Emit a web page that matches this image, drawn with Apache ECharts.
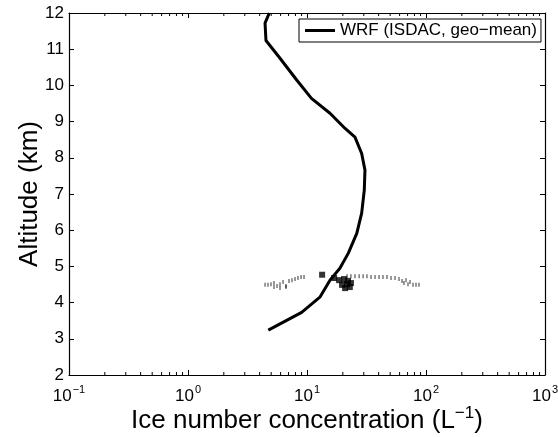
<!DOCTYPE html>
<html>
<head>
<meta charset="utf-8">
<script src="https://cdn.jsdelivr.net/npm/echarts@6/dist/echarts.min.js"></script>
<style>
html,body{margin:0;padding:0;background:#fff;}
#chart{width:558px;height:437px;}
</style>
</head>
<body>
<div id="chart"></div>
<script>
// WRF geo-mean profile: ice number concentration (L^-1) vs altitude (km)
const wrfConc = [4.82, 4.44, 4.52, 5.93, 8.19, 10.9, 15.6, 20.9, 25.3, 28.8, 30.7, 30.3, 28.8, 26.2, 22.2, 18.9, 15.6, 12.9, 9.02, 4.73];
const wrfAlt  = [12.0, 11.72, 11.24, 10.75, 10.15, 9.64, 9.23, 8.81, 8.57, 8.12, 7.66, 7.11, 6.47, 5.91, 5.36, 4.95, 4.62, 4.16, 3.73, 3.24];

// Observation samples (small dotted markers)
const obsConc = [4.44, 4.70, 4.98, 5.28, 5.60, 5.93, 6.29, 6.66, 7.06, 7.48, 7.93, 8.40, 8.91, 9.44,
                 5.28, 5.93, 6.66,
                 21.7, 23.4, 25.3, 27.4, 29.6, 31.9, 34.5, 37.3, 40.3, 43.5, 47.0, 50.8, 54.9, 59.3,
                 62.9, 65.3, 67.9, 70.6, 73.4, 77.8, 82.4, 87.3];
const obsAlt  = [4.49, 4.49, 4.51, 4.54, 4.46, 4.51, 4.57, 4.46, 4.60, 4.62, 4.65, 4.68, 4.71, 4.71,
                 4.43, 4.40, 4.43,
                 4.73, 4.73, 4.73, 4.73, 4.73, 4.73, 4.71, 4.71, 4.71, 4.71, 4.71, 4.68, 4.68, 4.65,
                 4.60, 4.54, 4.62, 4.51, 4.57, 4.49, 4.49, 4.49];

// Observation mean squares
const sqConc = [13.4, 16.9, 18.6, 20.5, 21.7, 19.7, 23.4, 20.9, 22.9, 22.1];
const sqAlt  = [4.77, 4.68, 4.62, 4.65, 4.51, 4.49, 4.54, 4.40, 4.43, 4.60];

// Axis settings
const xMin = 0.1, xMax = 1000;
const yMin = 2, yMax = 12, yStep = 1;
const minorTickVals = [0.2,0.3,0.4,0.5,0.6,0.7,0.8,0.9, 2,3,4,5,6,7,8,9, 20,30,40,50,60,70,80,90, 200,300,400,500,600,700,800,900];

const seriesName = 'WRF (ISDAC, geo\u2212mean)';
const FONT = '"Liberation Sans", Arial, Helvetica, sans-serif';

function expLabel(v) {
  const e = Math.round(Math.log10(v));
  const s = e < 0 ? '\u2212' + Math.abs(e) : String(e);
  return '{b|10}{s|' + s + '}';
}

const axisLineStyle = { color: '#000', width: 1.2 };
const tickRich = {
  b: { fontSize: 17, lineHeight: 17, fontFamily: FONT, color: '#000', verticalAlign: 'bottom' },
  s: { fontSize: 11, lineHeight: 11, fontFamily: FONT, color: '#000', verticalAlign: 'bottom', padding: [0, 0, 10, 1] }
};

const chart = echarts.init(document.getElementById('chart'), null, { renderer: 'canvas' });
chart.setOption({
  animation: false,
  backgroundColor: '#fff',
  grid: { left: 69, right: 13, top: 13, bottom: 62, containLabel: false, outerBoundsMode: 'none' },
  legend: {
    data: [{ name: seriesName, icon: 'rect' }],
    left: 299, top: 19,
    backgroundColor: '#fff',
    borderColor: '#000', borderWidth: 1,
    padding: [3, 4, 3, 6],
    itemWidth: 30, itemHeight: 3, itemGap: 5,
    textStyle: { fontSize: 17, lineHeight: 17, fontFamily: FONT, color: '#000' }
  },
  xAxis: [{
    type: 'log', logBase: 10, min: xMin, max: xMax, position: 'bottom',
    axisLine: { show: true, lineStyle: axisLineStyle },
    axisTick: { show: true, inside: true, length: 5, lineStyle: { color: '#000', width: 1 } },
    axisLabel: { formatter: expLabel, rich: tickRich, margin: 13 },
    splitLine: { show: false },
    name: '{a|Ice number concentration (L}{s|\u22121}{a|)}',
    nameLocation: 'middle', nameGap: 33, nameMoveOverlap: false,
    nameTextStyle: {
      rich: {
        a: { fontSize: 26, lineHeight: 26, fontFamily: FONT, color: '#000', verticalAlign: 'bottom' },
        s: { fontSize: 17, lineHeight: 17, fontFamily: FONT, color: '#000', verticalAlign: 'bottom', padding: [0, 0, 12, 0] }
      }
    }
  }, {
    type: 'log', logBase: 10, min: xMin, max: xMax, position: 'top',
    axisLine: { show: true, lineStyle: axisLineStyle },
    axisTick: { show: true, inside: true, length: 5, lineStyle: { color: '#000', width: 1 } },
    axisLabel: { show: false },
    splitLine: { show: false }
  }],
  yAxis: [{
    type: 'value', min: yMin, max: yMax, interval: yStep, position: 'left',
    axisLine: { show: true, lineStyle: axisLineStyle },
    axisTick: { show: true, inside: true, length: 5, lineStyle: { color: '#000', width: 1 } },
    axisLabel: { fontSize: 17, fontFamily: FONT, color: '#000', margin: 5 },
    splitLine: { show: false },
    name: 'Altitude (km)', nameLocation: 'middle', nameGap: 26, nameMoveOverlap: false,
    nameTextStyle: { fontSize: 26, fontFamily: FONT, color: '#000' }
  }, {
    type: 'value', min: yMin, max: yMax, interval: yStep, position: 'right',
    axisLine: { show: true, lineStyle: axisLineStyle },
    axisTick: { show: true, inside: true, length: 5, lineStyle: { color: '#000', width: 1 } },
    axisLabel: { show: false },
    splitLine: { show: false }
  }],
  series: [
    {
      name: 'minor', type: 'custom', xAxisIndex: 0, yAxisIndex: 0, silent: true, clip: false,
      data: minorTickVals.map(v => [v, yMin]),
      renderItem: function (params, api) {
        const x = api.coord([api.value(0), yMin])[0];
        const cs = params.coordSys;
        const b = cs.y + cs.height, t = cs.y;
        return { type: 'group', children: [
          { type: 'line', shape: { x1: x, y1: b, x2: x, y2: b - 3 }, style: { stroke: '#000', lineWidth: 1 } },
          { type: 'line', shape: { x1: x, y1: t, x2: x, y2: t + 3 }, style: { stroke: '#000', lineWidth: 1 } }
        ]};
      }
    },
    {
      name: 'obs', type: 'scatter', symbol: 'rect', symbolSize: [1, 4],
      itemStyle: { color: '#000' }, silent: true,
      data: obsConc.map((c, i) => [c, obsAlt[i]])
    },
    {
      name: 'obsmean', type: 'scatter', symbol: 'rect', symbolSize: 6,
      itemStyle: { color: '#000' }, silent: true,
      data: sqConc.map((c, i) => [c, sqAlt[i]])
    },
    {
      name: seriesName, type: 'line', symbol: 'none', smooth: false,
      lineStyle: { color: '#000', width: 3 }, itemStyle: { color: '#000' },
      data: wrfConc.map((c, i) => [c, wrfAlt[i]])
    }
  ]
});
</script>
</body>
</html>
